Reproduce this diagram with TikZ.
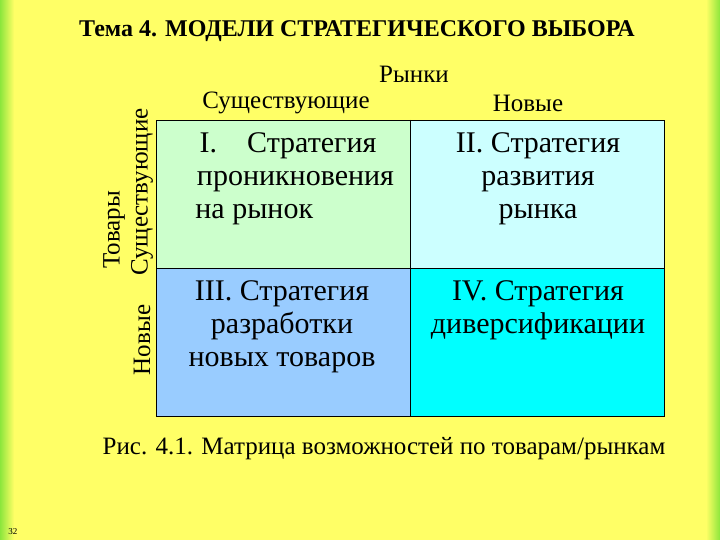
\documentclass[tikz,border=0pt]{standalone}
\usepackage{fontspec}
\setmainfont{Liberation Serif}
\definecolor{bgy}{RGB}{255,255,102}
\definecolor{edg}{RGB}{140,230,60}
\definecolor{ca}{RGB}{204,255,204}
\definecolor{cb}{RGB}{204,255,255}
\definecolor{cc}{RGB}{153,204,255}
\definecolor{cd}{RGB}{0,255,255}
\begin{document}
\begin{tikzpicture}[x=1pt,y=-1pt,
  cell/.style={draw=black,line width=0.8pt},
  ctext/.style={font=\fontsize{30}{33}\selectfont,align=center,anchor=north},
  lab/.style={font=\fontsize{25}{27}\selectfont}]
\useasboundingbox (0,0) rectangle (720,540);
\fill[bgy] (0,0) rectangle (720,540);
\fill[left color=edg,right color=bgy] (0,0) rectangle (14,540);
\fill[right color=edg,left color=bgy] (706,0) rectangle (720,540);
\node[font=\bfseries\fontsize{24}{26}\selectfont] (title) at (357,31) {Тема 4. МОДЕЛИ СТРАТЕГИЧЕСКОГО ВЫБОРА};
\node[lab] (mk) at (414,74) {Рынки};
\node[lab] (ex) at (286,103) {Существующие};
\node[lab] (nw) at (528,103) {Новые};
\node[lab,rotate=90] (tv) at (114,230) {Товары};
\node[lab,rotate=90] (exv) at (142,192) {Существующие};
\node[lab,rotate=90] (nwv) at (142,340) {Новые};
\fill[ca] (156,120) rectangle (410,268);
\fill[cb] (410,120) rectangle (664,268);
\fill[cc] (156,268) rectangle (410,416);
\fill[cd] (410,268) rectangle (664,416);
\draw[cell] (156,120) rectangle (664,416);
\draw[cell] (410,120) -- (410,416);
\draw[cell] (156,268) -- (664,268);
\node[ctext] (c1) at (288,129) {I.\quad Стратегия\\\ \ проникновения\\на рынок\qquad\ \ };
\node[ctext] (c2) at (538,129) {II. Стратегия\\развития\\рынка};
\node[ctext] (c3) at (282,277) {III. Стратегия\\разработки\\новых товаров};
\node[ctext] (c4) at (538,277) {IV. Стратегия\\диверсификации};
\node[lab] (cap) at (384,449) {Рис. 4.1. Матрица возможностей по товарам/рынкам};
\node[font=\fontsize{9}{10}\selectfont] (pg) at (13,532) {32};
\end{tikzpicture}
\end{document}
